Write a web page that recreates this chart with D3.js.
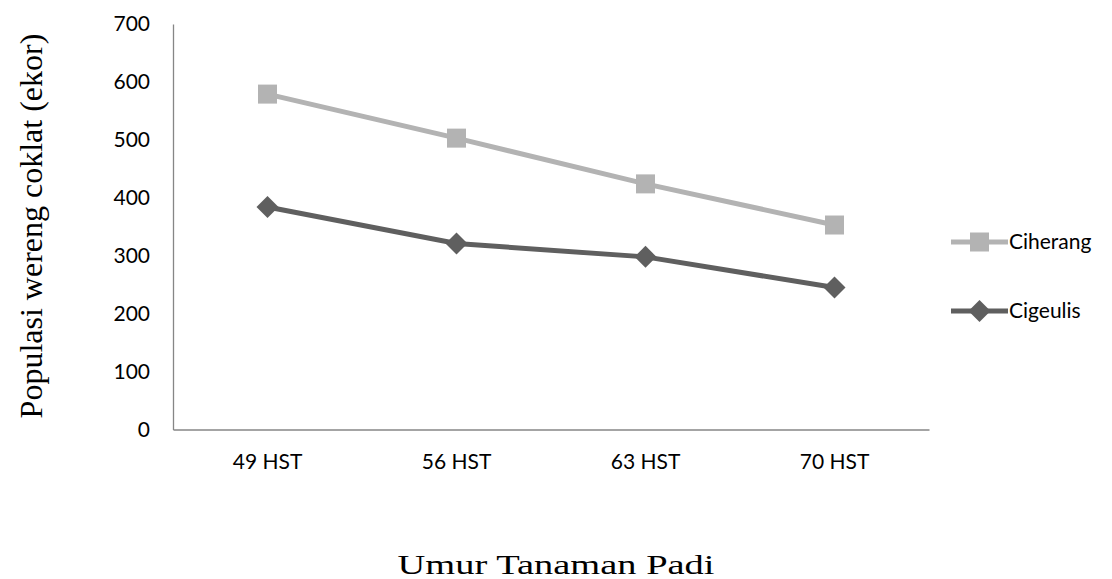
<!DOCTYPE html>
<html><head><meta charset="utf-8">
<script src="https://cdn.jsdelivr.net/npm/d3@7"></script>
<style>body{margin:0;background:#fff}svg{display:block}</style>
</head><body><svg id="c" width="1112" height="579"></svg>
<script>
const categories = ["49 HST", "56 HST", "63 HST", "70 HST"];
const ciherang = [579, 503, 424, 353];
const cigeulis = [384, 321, 298, 245];
const yTicks = [0, 100, 200, 300, 400, 500, 600, 700];
const seriesNames = ["Ciherang", "Cigeulis"];

const svg = d3.select("#c");
const L = 173, R = 929, T = 24, B = 429.5;
const x = d3.scaleBand().domain(categories).range([L, R]);
const y = d3.scaleLinear().domain([0, 700]).range([B, T]);
const lab = "Lato, 'Open Sans', sans-serif";
const serif = "'Liberation Serif', 'Times New Roman', serif";

// axes
const yAxis = svg.append("g").attr("transform", `translate(${L},0)`)
  .call(d3.axisLeft(y).tickValues(yTicks).tickSize(0).tickPadding(23));
yAxis.select(".domain").attr("stroke", "#868686").attr("stroke-width", 1.3);
yAxis.selectAll("text").attr("font-family", lab).attr("font-size", 21).attr("fill", "#000");

const xAxis = svg.append("g").attr("transform", `translate(0,${B})`)
  .call(d3.axisBottom(x).tickSize(0).tickPadding(25));
xAxis.select(".domain").attr("stroke", "#868686").attr("stroke-width", 1.3);
xAxis.selectAll("text").attr("font-family", lab).attr("font-size", 21).attr("fill", "#000");

const series = [
  {name: seriesNames[0], values: ciherang, color: "#b3b3b3", marker: "square"},
  {name: seriesNames[1], values: cigeulis, color: "#5f5f5f", marker: "diamond"}
];
const cx = c => x(c) + x.bandwidth() / 2;
const line = d3.line().x((d, i) => cx(categories[i])).y(d => y(d));

function marker(g, type, px, py, color) {
  if (type === "square") {
    g.append("rect").attr("x", px - 9.5).attr("y", py - 9.5).attr("width", 19).attr("height", 19).attr("fill", color);
  } else {
    const r = 11;
    g.append("path").attr("d", `M${px},${py - r}L${px + r},${py}L${px},${py + r}L${px - r},${py}Z`).attr("fill", color);
  }
}

series.forEach(s => {
  svg.append("path").datum(s.values).attr("d", line).attr("fill", "none")
    .attr("stroke", s.color).attr("stroke-width", 5);
  const g = svg.append("g");
  s.values.forEach((v, i) => marker(g, s.marker, cx(categories[i]), y(v), s.color));
});

// legend
const legY = [242, 311];
series.forEach((s, i) => {
  const g = svg.append("g");
  g.append("line").attr("x1", 951).attr("x2", 1008).attr("y1", legY[i]).attr("y2", legY[i])
    .attr("stroke", s.color).attr("stroke-width", 5);
  marker(g, s.marker, 979.5, legY[i], s.color);
  g.append("text").attr("x", 1009).attr("y", legY[i]).attr("dy", "0.35em")
    .attr("font-family", lab).attr("font-size", 21).text(s.name);
});

// titles
svg.append("text").attr("transform", "translate(42,226) rotate(-90)").attr("text-anchor", "middle")
  .attr("font-family", serif).attr("font-size", 32)
  .text("Populasi wereng coklat (ekor)");
svg.append("text").attr("x", 556).attr("y", 574).attr("text-anchor", "middle")
  .attr("font-family", serif).attr("font-size", 28)
  .attr("textLength", 317).attr("lengthAdjust", "spacingAndGlyphs")
  .text("Umur Tanaman Padi");
</script></body></html>
